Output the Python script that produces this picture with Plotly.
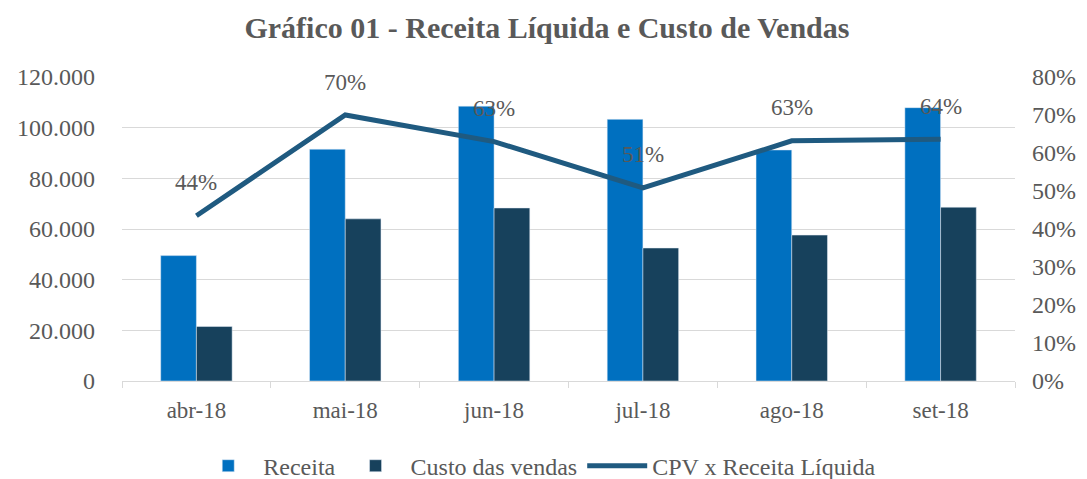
import plotly.graph_objects as go

categories = ["abr-18", "mai-18", "jun-18", "jul-18", "ago-18", "set-18"]
receita = [49500, 91500, 108500, 103300, 91200, 107900]
custo = [21500, 64000, 68300, 52500, 57600, 68600]
cpv_ratio = [0.435, 0.70, 0.63, 0.508, 0.632, 0.636]
ratio_labels = ["44%", "70%", "63%", "51%", "63%", "64%"]

FONT = "Liberation Serif"
GRAY = "#595959"

fig = go.Figure()
fig.add_trace(go.Bar(x=categories, y=receita, name="Receita", marker=dict(color="#0070C0")))
fig.add_trace(go.Bar(x=categories, y=custo, name="Custo das vendas", marker=dict(color="#17415C")))
fig.add_trace(go.Scatter(x=categories, y=cpv_ratio, name="CPV x Receita Líquida", yaxis="y2",
                         mode="lines", line=dict(color="#1F5A80", width=5)))

for c, v, t in zip(categories, cpv_ratio, ratio_labels):
    fig.add_annotation(x=c, y=v, yref="y2", text=t, showarrow=False, yshift=33,
                       font=dict(family=FONT, size=23, color=GRAY))

fig.update_layout(
    width=1079, height=471,
    paper_bgcolor="white", plot_bgcolor="white",
    separators=",.",
    margin=dict(l=114, r=72, t=69, b=98, autoexpand=False),
    title=dict(text="<b>Gráfico 01 - Receita Líquida e Custo de Vendas</b>", x=0.4995, xref="container",
               y=0.958, yref="container", xanchor="center", yanchor="middle",
               font=dict(family=FONT, size=30, color=GRAY)),
    barmode="group", bargap=0.52, bargroupgap=0,
    font=dict(family=FONT, size=23, color=GRAY),
    xaxis=dict(showgrid=False, showline=True, linecolor="#D9D9D9", linewidth=1,
               ticks="outside", tickson="boundaries", tickcolor="#D9D9D9", ticklen=6,
               ticklabelstandoff=8,
               tickfont=dict(family=FONT, size=23, color=GRAY)),
    yaxis=dict(range=[0, 120000], dtick=20000, tickformat=",.0f", showgrid=True,
               gridcolor="#D9D9D9", gridwidth=1, zeroline=False, ticks="",
               ticklabelstandoff=26,
               tickfont=dict(family=FONT, size=24, color=GRAY)),
    yaxis2=dict(range=[0, 0.8], dtick=0.1, tickformat=".0%", overlaying="y", side="right",
                showgrid=False, zeroline=False, ticklabelstandoff=16,
                tickfont=dict(family=FONT, size=24, color=GRAY)),
    legend=dict(orientation="h", x=0.465, xref="paper", xanchor="center", y=-0.28, yref="paper",
                yanchor="middle", font=dict(family=FONT, size=24, color=GRAY), traceorder="normal",
                itemwidth=60),
    showlegend=True,
)

fig.write_html("out.html")
